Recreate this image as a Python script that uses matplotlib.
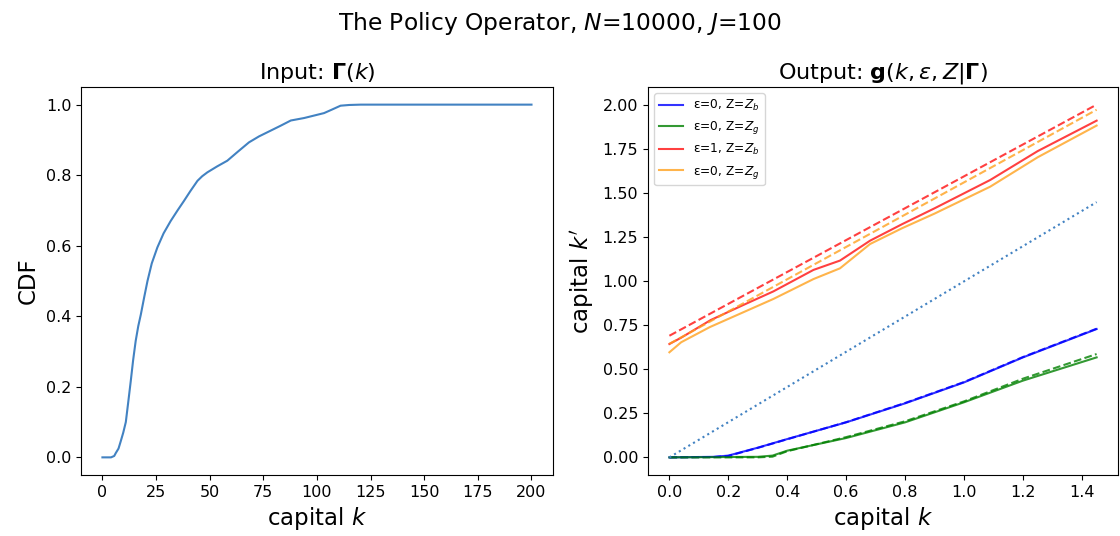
import matplotlib
matplotlib.use('Agg')
import matplotlib.pyplot as plt
import numpy as np

# input distribution (CDF of capital)
k_in = [0, 4, 5.5, 6.2, 7.5, 8.5, 9.7, 10.9, 12, 13.2, 14.3, 15.5, 16.7, 17.9,
        19.5, 21, 23, 25.6, 28.5, 31.8, 35, 38, 41, 44.3, 46.5, 48.9, 53.5,
        58.2, 63, 68.3, 73, 78, 83, 87.8, 94, 103.3, 107, 111, 115, 120.4, 150, 200]
cdf = [0.0, 0.0, 0.004, 0.012, 0.025, 0.045, 0.07, 0.10, 0.155, 0.216, 0.275, 0.33,
       0.372, 0.405, 0.455, 0.5, 0.55, 0.595, 0.635, 0.67, 0.70, 0.727, 0.755,
       0.784, 0.797, 0.808, 0.825, 0.841, 0.866, 0.893, 0.91, 0.925, 0.94, 0.955,
       0.962, 0.976, 0.986, 0.997, 0.999, 1.0, 1.0, 1.0]

# policy output
k_low = [0, 0.15, 0.2, 0.3, 0.4, 0.6, 0.8, 1.0, 1.2, 1.45]
blue_solid = [0.0, 0.003, 0.01, 0.055, 0.104, 0.199, 0.307, 0.426, 0.568, 0.729]
blue_dash = [0.0, 0.002, 0.008, 0.054, 0.103, 0.200, 0.309, 0.428, 0.570, 0.731]
k_g = [0, 0.3, 0.35, 0.4, 0.6, 0.8, 1.0, 1.2, 1.45]
green_solid = [0.0, 0.003, 0.01, 0.038, 0.11, 0.199, 0.313, 0.436, 0.568]
green_dash = [0.0, 0.0, 0.004, 0.035, 0.115, 0.205, 0.318, 0.447, 0.587]

k_red = [0, 0.04, 0.14, 0.25, 0.353, 0.489, 0.579, 0.681, 0.79, 0.9, 1.089, 1.25, 1.45]
red_solid = [0.644, 0.68, 0.78, 0.865, 0.943, 1.065, 1.118, 1.231, 1.325, 1.415, 1.576,
             1.74, 1.913]
k_or = [0, 0.04, 0.137, 0.353, 0.489, 0.579, 0.681, 0.79, 0.9, 1.089, 1.25, 1.45]
orange_solid = [0.597, 0.654, 0.74, 0.90, 1.013, 1.074, 1.212, 1.302, 1.385, 1.538,
                1.705, 1.885]
k_lin = [0, 0.68, 1.45]
red_dash = [0.691, 1.307, 2.004]
orange_dash = [0.645, 1.269, 1.975]
diag = [0, 1.45]

fig = plt.figure(figsize=(11.2, 5.36), dpi=100)
ax1 = fig.add_axes([0.0723, 0.1138, 0.4214, 0.7239])
ax2 = fig.add_axes([0.5786, 0.1138, 0.4196, 0.7239])

ax1.plot(k_in, cdf, color='#4282c2', lw=1.5)
ax1.set_title(r'Input: $\mathbf{\Gamma}(k)$', fontsize=16)
ax1.set_xlabel(r'capital $k$', fontsize=16.5)
ax1.set_ylabel('CDF', fontsize=16.5)
ax1.set_xticks([0, 25, 50, 75, 100, 125, 150, 175, 200])
ax1.tick_params(labelsize=11.5)

ax2.plot(k_low, blue_solid, color='blue', alpha=0.8, lw=1.5, label='ε=0, Z=$Z_b$')
ax2.plot(k_g, green_solid, color='green', alpha=0.8, lw=1.5, label='ε=0, Z=$Z_g$')
ax2.plot(k_red, red_solid, color='red', alpha=0.75, lw=1.5, label='ε=1, Z=$Z_b$')
ax2.plot(k_or, orange_solid, color='#ffa11e', alpha=0.8, lw=1.5, label='ε=0, Z=$Z_g$')
ax2.plot(k_low, blue_dash, color='blue', alpha=0.8, lw=1.5, ls='--')
ax2.plot(k_g, green_dash, color='green', alpha=0.8, lw=1.5, ls='--')
ax2.plot(k_lin, red_dash, color='red', alpha=0.75, lw=1.5, ls='--')
ax2.plot(k_lin, orange_dash, color='#ffa11e', alpha=0.8, lw=1.5, ls='--')
ax2.plot(diag, diag, color='#4282c2', ls=':', lw=1.5)
ax2.set_title(r'Output: $\mathbf{g}(k,\varepsilon,Z|\mathbf{\Gamma})$', fontsize=16)
ax2.set_xlabel(r'capital $k$', fontsize=16.5)
ax2.set_ylabel(r'capital $k^\prime$', fontsize=16.5)
ax2.tick_params(labelsize=11.5)
ax2.legend(loc='upper left', fontsize=8.8)

fig.suptitle(r'The Policy Operator, $N$=10000, $J$=100', fontsize=16.8, y=0.982)
fig.savefig('out.png', dpi=100)
